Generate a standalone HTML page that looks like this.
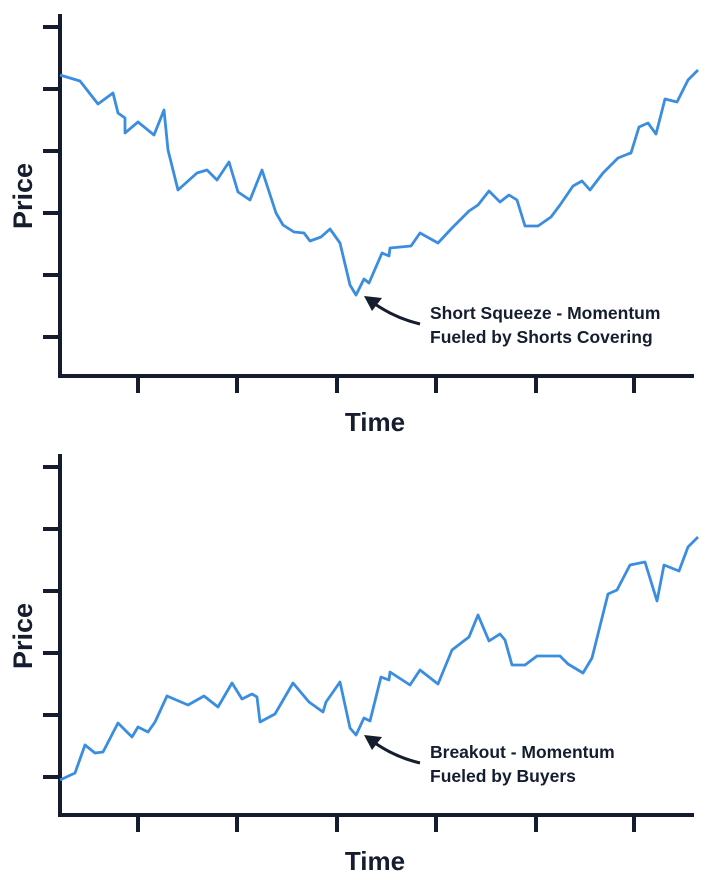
<!DOCTYPE html>
<html><head><meta charset="utf-8"><style>
html,body{margin:0;padding:0;background:#fff;}
svg{display:block;}
text{font-family:"Liberation Sans",sans-serif;fill:#151d2f;}
.ann{font-weight:bold;font-size:17.5px;}
</style></head><body>
<svg width="720" height="887" viewBox="0 0 720 887" xmlns="http://www.w3.org/2000/svg">
<g stroke="#141c2e" stroke-width="4" fill="none" stroke-linecap="square">
<path d="M60 16 V376 H692"/>
<path d="M45 27H60M45 89H60M45 151H60M45 213H60M45 275H60M45 337H60"/>
<path d="M138 376V391M237 376V391M337 376V391M436 376V391M536 376V391M634 376V391"/>
<path d="M60 456 V815 H692"/>
<path d="M45 467H60M45 529H60M45 591H60M45 653H60M45 715H60M45 777H60"/>
<path d="M138 815V830M237 815V830M337 815V830M436 815V830M536 815V830M634 815V830"/>
</g>
<g stroke="#3b8de0" stroke-width="2.8" fill="none" stroke-linejoin="round">
<polyline points="60,75 80,81 98,104 113,93 118,113 125,118 125,133 138,122 154,135 164,110 168,150 178,190 197,173 207,170 217,180 229,162 238,192 250,200 262,170 276,213 283,225 294,232 304,233 310,241 321,237 330,229 340,243 350,285 356,295 364,279 369,283 382,253 389,256 390,248 411,246 420,233 438,243 452,228 462,218 469,211 478,205 489,191 500,202 509,195 517,200 525,226 538,226 551,217 560,205 573,186 582,181 590,190 603,173 614,162 618,158 628,154 631,153 639,127 648,123 656,134 665,99 677,102 688,80 698,70"/>
<polyline points="60,780 75,773 85,745 95,753 103,752 118,723 132,737 138,727 148,732 155,722 167,696 188,705 204,696 218,707 232,683 242,699 252,694 257,697 260,722 275,714 293,683 309,702 323,712 326,702 340,682 350,728 356,735 364,718 370,721 381,677 389,680 390,672 410,685 420,670 438,684 452,650 465,640 469,637 478,615 489,641 500,634 505,640 512,665 525,665 537,656 560,656 568,664 583,673 592,658 608,594 617,590 630,565 645,562 657,601 664,565 679,571 688,547 698,537"/>
</g>
<g stroke="#151d2f" stroke-width="3" fill="none">
<path d="M420 324 Q395 318 375 304"/>
<path d="M420 763 Q395 757 375 743"/>
</g>
<g fill="#151d2f">
<polygon points="364,296 382,298 372,311"/>
<polygon points="364,735 382,737 372,750"/>
</g>
<text class="ann" x="430" y="319">Short Squeeze - Momentum</text>
<text class="ann" x="430" y="343">Fueled by Shorts Covering</text>
<text class="ann" x="430" y="758">Breakout - Momentum</text>
<text class="ann" x="430" y="782">Fueled by Buyers</text>
<text x="375" y="431" font-size="26" font-weight="bold" text-anchor="middle">Time</text>
<text x="375" y="870" font-size="26" font-weight="bold" text-anchor="middle">Time</text>
<text transform="translate(32,196) rotate(-90)" font-size="27" font-weight="bold" text-anchor="middle">Price</text>
<text transform="translate(32,636) rotate(-90)" font-size="27" font-weight="bold" text-anchor="middle">Price</text>
</svg>
</body></html>
